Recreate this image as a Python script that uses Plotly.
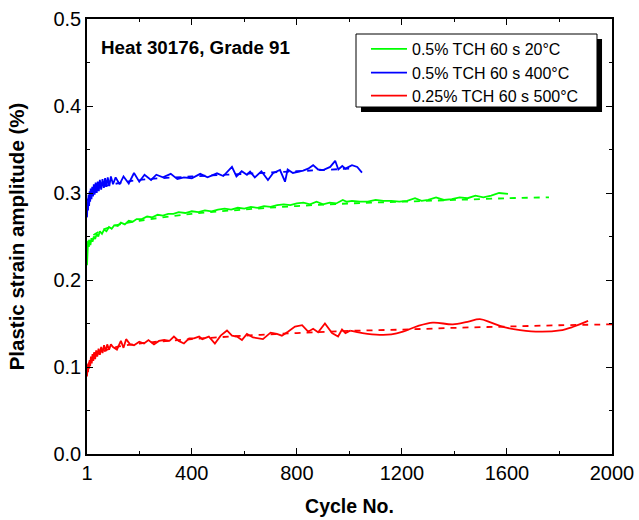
import plotly.graph_objects as go

# ---------------- data ----------------
green_x = [1, 3, 5, 8, 11, 14, 18, 22, 27, 32, 38, 44, 50, 58, 66, 75, 85, 95, 105, 118,
           130, 145, 160, 175, 190, 210, 230, 250, 270, 290, 310, 330, 350, 375, 400, 425,
           450, 475, 500, 525, 550, 575, 600, 625, 650, 675, 700, 725, 750, 775, 800, 825,
           850, 875, 900, 925, 950, 975, 990, 1010, 1040, 1070, 1100, 1130, 1160, 1190,
           1220, 1250, 1275, 1300, 1330, 1360, 1390, 1420, 1450, 1480, 1510, 1540, 1570, 1604]
green_y = [0.217, 0.236, 0.245, 0.238, 0.246, 0.240, 0.248, 0.244, 0.250, 0.247, 0.253, 0.250,
           0.256, 0.253, 0.258, 0.256, 0.261, 0.259, 0.263, 0.262, 0.266, 0.264, 0.268, 0.267,
           0.270, 0.270, 0.273, 0.272, 0.275, 0.274, 0.276, 0.276, 0.278, 0.277, 0.279, 0.278,
           0.280, 0.279, 0.281, 0.282, 0.281, 0.283, 0.282, 0.284, 0.283, 0.285, 0.284, 0.286,
           0.287, 0.286, 0.288, 0.289, 0.287, 0.290, 0.287, 0.289, 0.288, 0.292, 0.290, 0.291,
           0.290, 0.290, 0.292, 0.291, 0.291, 0.290, 0.291, 0.294, 0.291, 0.292, 0.295, 0.292,
           0.293, 0.295, 0.294, 0.297, 0.295, 0.297, 0.300, 0.299]
green_fit_x = [1, 20, 50, 100, 200, 400, 600, 800, 1000, 1200, 1400, 1600, 1760]
green_fit_y = [0.240, 0.250, 0.256, 0.262, 0.268, 0.276, 0.281, 0.285, 0.288, 0.290, 0.292, 0.294, 0.295]

blue_x = [1, 3, 5, 7, 9, 11, 13, 15, 18, 21, 24, 27, 30, 34, 38, 42, 46, 50, 55, 60, 65, 70,
          75, 80, 86, 92, 100, 110, 125, 140, 160, 180, 200, 220, 245, 265, 290, 320, 345, 370,
          400, 432, 460, 496, 520, 553, 570, 590, 610, 622, 640, 665, 690, 710, 736, 755, 765,
          785, 824, 843, 862, 881, 900, 927, 946, 958, 973, 985, 1010, 1030, 1048]
blue_y = [0.272, 0.290, 0.280, 0.298, 0.285, 0.302, 0.290, 0.305, 0.293, 0.307, 0.296, 0.310,
          0.298, 0.312, 0.300, 0.313, 0.302, 0.315, 0.304, 0.316, 0.306, 0.317, 0.307, 0.318,
          0.308, 0.319, 0.310, 0.318, 0.310, 0.319, 0.311, 0.323, 0.313, 0.321, 0.315, 0.321,
          0.318, 0.322, 0.316, 0.318, 0.317, 0.322, 0.318, 0.3226, 0.3195, 0.330, 0.319, 0.325,
          0.321, 0.3245, 0.318, 0.325, 0.315, 0.323, 0.3264, 0.313, 0.327, 0.323, 0.3257, 0.328,
          0.332, 0.327, 0.3264, 0.330, 0.337, 0.327, 0.331, 0.328, 0.332, 0.330, 0.3234]
blue_fit_x = [1, 20, 50, 100, 200, 400, 600, 800, 1000]
blue_fit_y = [0.290, 0.300, 0.306, 0.310, 0.315, 0.319, 0.322, 0.325, 0.328]

red_x = [1, 3, 5, 7, 9, 11, 13, 16, 19, 22, 25, 28, 32, 36, 40, 45, 50, 55, 60, 66, 72, 78,
         85, 92, 100, 115, 130, 140, 150, 165, 180, 200, 218, 235, 256, 275, 295, 315, 332, 350,
         370, 390, 408, 428, 440, 465, 488, 510, 534, 553, 572, 591, 610, 633, 671, 700, 724,
         743, 766, 793, 820, 843, 862, 881, 907, 934, 957, 972, 985, 1003]
red_y = [0.089, 0.100, 0.094, 0.104, 0.098, 0.108, 0.101, 0.112, 0.104, 0.115, 0.107, 0.117,
         0.109, 0.119, 0.112, 0.121, 0.114, 0.123, 0.116, 0.125, 0.118, 0.126, 0.120, 0.126,
         0.123, 0.120, 0.130, 0.122, 0.132, 0.126, 0.125, 0.129, 0.127, 0.131, 0.126, 0.130,
         0.131, 0.130, 0.135, 0.130, 0.127, 0.133, 0.133, 0.135, 0.132, 0.135, 0.127, 0.136,
         0.142, 0.136, 0.135, 0.131, 0.138, 0.134, 0.132, 0.1395, 0.138, 0.136, 0.1406, 0.1464,
         0.148, 0.1406, 0.144, 0.140, 0.150, 0.139, 0.135, 0.143, 0.139, 0.1418]
red_smooth_x = [1003, 1050, 1116, 1160, 1204, 1260, 1318, 1394, 1450, 1497, 1540, 1585, 1650,
                1726, 1802, 1850, 1909]
red_smooth_y = [0.1418, 0.139, 0.137, 0.1375, 0.1406, 0.147, 0.151, 0.149, 0.152, 0.155, 0.151,
                0.146, 0.1425, 0.1406, 0.142, 0.146, 0.153]
red_fit_x = [1, 20, 50, 100, 200, 400, 600, 800, 1000, 1200, 1400, 1600, 1800, 2000]
red_fit_y = [0.100, 0.110, 0.116, 0.122, 0.127, 0.132, 0.136, 0.139, 0.1415, 0.143, 0.145,
             0.1465, 0.148, 0.149]

names = ["0.5% TCH 60 s 20°C", "0.5% TCH 60 s 400°C", "0.25% TCH 60 s 500°C"]
x_tickvals = [1, 400, 800, 1200, 1600, 2000]
x_ticktext = ["1", "400", "800", "1200", "1600", "2000"]
x_minor = [200, 600, 1000, 1400, 1800]
y_tickvals = [0.0, 0.1, 0.2, 0.3, 0.4, 0.5]
y_ticktext = ["0.0", "0.1", "0.2", "0.3", "0.4", "0.5"]
y_minor = [0.05, 0.15, 0.25, 0.35, 0.45]

GREEN = "#00ff00"
BLUE = "#0000ff"
RED = "#ff0000"
FONT = "Arial, 'Liberation Sans', sans-serif"
LW = 1.8

fig = go.Figure()
# fits (dashed)
fig.add_trace(go.Scatter(x=green_fit_x, y=green_fit_y, mode="lines", line=dict(color=GREEN, width=LW, dash="6px,6px", shape="spline"), showlegend=False))
fig.add_trace(go.Scatter(x=blue_fit_x, y=blue_fit_y, mode="lines", line=dict(color=BLUE, width=LW, dash="6px,6px", shape="spline"), showlegend=False))
fig.add_trace(go.Scatter(x=red_fit_x, y=red_fit_y, mode="lines", line=dict(color=RED, width=LW, dash="6px,6px", shape="spline"), showlegend=False))
# measured
fig.add_trace(go.Scatter(x=green_x, y=green_y, mode="lines", name=names[0], legend="legend", line=dict(color=GREEN, width=LW)))
fig.add_trace(go.Scatter(x=blue_x, y=blue_y, mode="lines", name=names[1], legend="legend2", line=dict(color=BLUE, width=LW)))
fig.add_trace(go.Scatter(x=red_x, y=red_y, mode="lines", name=names[2], legend="legend3", line=dict(color=RED, width=LW)))
fig.add_trace(go.Scatter(x=red_smooth_x, y=red_smooth_y, mode="lines", line=dict(color=RED, width=LW, shape="spline"), showlegend=False))

axis_common = dict(showline=True, linecolor="black", linewidth=1.5, mirror="ticks",
                   ticks="inside", ticklen=6, tickwidth=1.2, tickcolor="black",
                   showgrid=False, zeroline=False, automargin=False,
                   tickfont=dict(family=FONT, size=20, color="black"))

fig.update_xaxes(range=[1, 2000], tickmode="array", tickvals=x_tickvals, ticktext=x_ticktext,
                 minor=dict(tickmode="array", tickvals=x_minor, ticks="inside", ticklen=3, tickcolor="black"),
                 title=dict(text="<b>Cycle No.</b>", font=dict(family=FONT, size=19.5, color="black"), standoff=17),
                 **axis_common)
fig.update_yaxes(range=[0, 0.5], tickmode="array", tickvals=y_tickvals, ticktext=y_ticktext,
                 minor=dict(tickmode="array", tickvals=y_minor, ticks="inside", ticklen=3, tickcolor="black"),
                 title=dict(text="<b>Plastic strain amplitude (%)</b>", font=dict(family=FONT, size=20.5, color="black"), standoff=23),
                 **axis_common)

leg_common = dict(x=0.5314, xanchor="left", yanchor="middle", bgcolor="rgba(0,0,0,0)",
                  borderwidth=0, font=dict(family=FONT, size=16, color="black"), itemwidth=36)

fig.update_layout(
    width=639, height=520,
    margin=dict(l=87, r=27, t=19, b=66),
    plot_bgcolor="white", paper_bgcolor="white",
    font=dict(family=FONT, color="black"),
    legend=dict(y=0.931, **leg_common),
    legend2=dict(y=0.8766, **leg_common),
    legend3=dict(y=0.8237, **leg_common),
    shapes=[
        dict(type="rect", xref="paper", yref="paper", x0=0.5219, x1=0.981, y0=0.7862, y1=0.954,
             fillcolor="black", line=dict(width=0), layer="above"),
        dict(type="rect", xref="paper", yref="paper", x0=0.5124, x1=0.9714, y0=0.7977, y1=0.9655,
             fillcolor="white", line=dict(color="black", width=1), layer="above"),
    ],
    annotations=[dict(text="<b>Heat 30176, Grade 91</b>", xref="paper", yref="paper",
                      x=0.022, y=0.935, xanchor="left", yanchor="middle", showarrow=False,
                      font=dict(family=FONT, size=18.8, color="black"))],
)

fig.write_html("out.html")
